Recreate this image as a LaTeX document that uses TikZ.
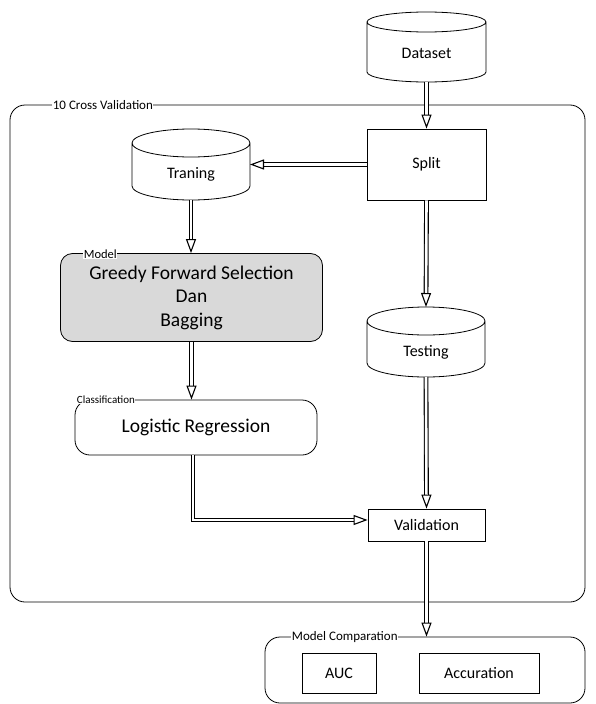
\documentclass[tikz,border=0pt]{standalone}
\usepackage{fontspec}
\setmainfont{Carlito}
\usetikzlibrary{positioning}
\usetikzlibrary{arrows.meta}
\usetikzlibrary{shapes}
\tikzset{every picture/.style={line width=0.8pt}}
\tikzset{drum/.style={rectangle, outer sep=0pt, inner sep=0pt, text height=28pt, text depth=0pt, font=\fontsize{16}{19}\selectfont}}
\tikzset{box/.style={draw=black, fill=white, rectangle, font=\fontsize{16}{19}\selectfont}}
\tikzset{frame/.style={draw=black, rectangle, rounded corners=15pt}}
\tikzset{tag/.style={fill=white, inner sep=0.5pt, anchor=west, font=\fontsize{13}{15}\selectfont}}
\tikzset{flow/.style={double, double distance=2.6pt, line width=1.1pt, -{Triangle[open, length=14pt, width=10pt]}}}
% outline of a cylinder round a drum node: #1 node, #2 x radius, #3 y radius
\newcommand{\drumline}[3]{%
    \draw ([yshift=-#3]#1.north west) -- ([yshift=#3]#1.south west)
        arc[start angle=180, end angle=360, x radius=#2, y radius=#3]
        -- ([yshift=-#3]#1.north east)
        arc[start angle=0, end angle=180, x radius=#2, y radius=#3]
        arc[start angle=180, end angle=360, x radius=#2, y radius=#3];
}

\begin{document}
\begin{tikzpicture}[x=1pt, y=-1pt]
        \useasboundingbox (0,0) rectangle (595,704);
        \node[frame, minimum width=575, minimum height=497] (crossval) at (297.5,353.5) {};
        \node[tag] (crossvaltag) at (52,105) {10 Cross Validation};
        \node[drum, minimum width=119, minimum height=70, text height=23pt] (dataset) at (426.5,47) {Dataset};
        \drumline{dataset}{59.5pt}{10pt}
        \node[box, minimum width=119, minimum height=71] (split) at (426.5,164.5) {Split};
        \node[drum, minimum width=118, minimum height=71] (traning) at (191,164.5) {Traning};
        \drumline{traning}{59pt}{14pt}
        \node[draw=black, fill=black!15, rounded corners=12pt, minimum width=262, minimum height=88, align=center, font=\fontsize{19.5}{23.5}\selectfont] (model) at (191.5,297.5) {Greedy Forward Selection\\Dan\\Bagging};
        \node[tag, font=\fontsize{12.5}{14}\selectfont] (modeltag) at (83,254) {Model};
        \node[drum, minimum width=118, minimum height=70] (testing) at (426,342) {Testing};
        \drumline{testing}{59pt}{14pt}
        \node[draw=black, fill=white, rounded corners=15pt, minimum width=242, minimum height=55, font=\fontsize{19.5}{23.5}\selectfont] (classif) at (196,427.5) {Logistic Regression};
        \node[tag, font=\fontsize{11}{13}\selectfont] (classiftag) at (76,400) {Classification};
        \node[box, minimum width=117, minimum height=32] (validation) at (426.5,525) {Validation};
        \node[frame, minimum width=320, minimum height=66] (compare) at (425,670) {};
        \node[tag] (comparetag) at (291,637) {Model Comparation};
        \node[box, minimum width=74, minimum height=40] (auc) at (339,673) {AUC};
        \node[box, minimum width=120, minimum height=40] (accuration) at (479,673) {Accuration};
        % arrow ends
        \coordinate (classifout) at (193,455);
        \coordinate (bend) at (193,520);
        \draw[flow] (dataset.south) -- (split.north);
        \draw[flow] (split.west) -- (split.west -| traning.east);
        \draw[flow] (traning.south) -- (model.north -| traning.south);
        \draw[flow] (split.south) -- (testing.north);
        \draw[flow] (model.south) -- (model.south |- classif.north);
        \draw[flow] (testing.south) -- (validation.north);
        \draw[flow] (classifout) -- (bend) -- (validation.west |- bend);
        \draw[flow] (validation.south) -- (validation.south |- compare.north);
    \end{tikzpicture}
\end{document}
